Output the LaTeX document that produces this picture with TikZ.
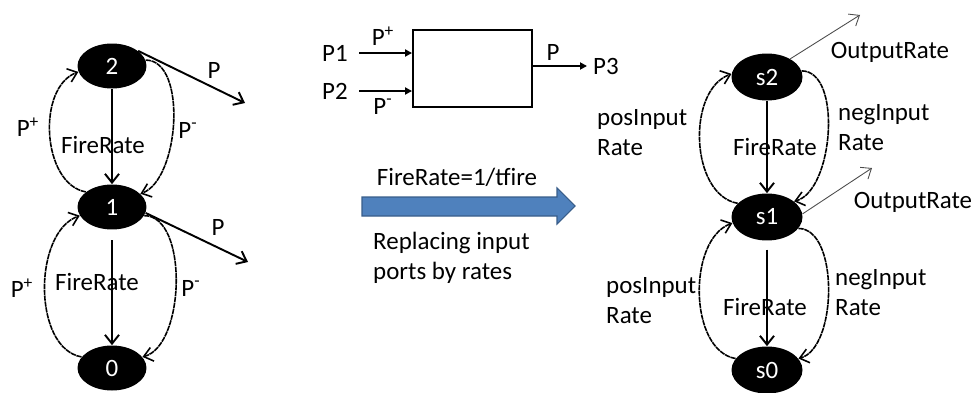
\documentclass[tikz,border=0pt]{standalone}
\usepackage{fontspec}
\setmainfont{Carlito}
\usetikzlibrary{arrows.meta,shapes.geometric}

\definecolor{arrowblue}{HTML}{4F81BD}
\definecolor{arrowedge}{HTML}{385D8A}

\tikzset{
  state/.style={ellipse,fill=black,text=white,inner sep=0pt,minimum width=1.38cm,minimum height=0.9cm},
  rstate/.style={state,minimum width=1.42cm,minimum height=0.94cm},
  fire/.style={line width=1.1pt,-{Straight Barb[length=5pt,width=8pt]}},
  inarc/.style={line width=0.9pt,dash pattern=on 3pt off 0.4pt,-{Straight Barb[length=5pt,width=8pt]}},
  outp/.style={line width=1.1pt,-{Straight Barb[length=5pt,width=8pt]}},
  outrate/.style={line width=0.5pt,black!70,-{Straight Barb[length=5pt,width=8pt]}},
  port/.style={line width=1.1pt,-{Triangle[length=4pt,width=4pt]}},
  twoline/.style={align=left,anchor=west}
}

\begin{document}
\begin{tikzpicture}[x=0.02cm,y=-0.02cm,font=\fontsize{14.2pt}{17pt}\selectfont]
    \useasboundingbox (0,0) rectangle (976,392);

    % left chain with ports
    \node[state] (n2) at (112,66) {2};
    \node[state] (n1) at (112,207) {1};
    \node[state] (n0) at (112,368) {0};
    \coordinate (pend2) at (245,103);
    \coordinate (pend1) at (248,262);

    \draw[fire] (n2) -- (n1);
    \draw[fire,shorten <=6pt] (n1) -- (n0);
    \draw[inarc] (n1.150) to[out=170,in=200,looseness=0.95] (n2.190);
    \draw[inarc] (n2.10) to[out=0,in=20,looseness=0.8] (n1.25);
    \draw[inarc] (n0.160) to[out=170,in=200,looseness=0.9] (n1.195);
    \draw[inarc] (n1.-15) to[out=0,in=15,looseness=0.8] (n0.20);
    \draw[outp] (n2.30) -- (pend2);
    \draw[outp] (n1.-10) -- (pend1);

    \node (pp2) at (28,127) {P\textsuperscript{+}};
    \node (fr2) at (103,145) {FireRate};
    \node (pm2) at (188,130) {P\textsuperscript{-}};
    \node (po2) at (214,70) {P};
    \node (pp1) at (22,288) {P\textsuperscript{+}};
    \node (fr1) at (97,282) {FireRate};
    \node (pm1) at (191,288) {P\textsuperscript{-}};
    \node (po1) at (218,227) {P};

    % block
    \node[draw,line width=1.1pt,minimum width=2.38cm,minimum height=1.54cm] (blk) at (472.5,68.5) {};
    \node (p1) at (335,53) {P1};
    \node (p2) at (335,91) {P2};
    \node (p3) at (606,66) {P3};
    \draw[port,shorten <=3pt] (p1.east) -- (blk.west |- p1.east);
    \draw[port,shorten <=3pt] (p2.east) -- (blk.west |- p2.east);
    \draw[port] (blk.east |- p3.west) -- (p3.west);
    \node (bpp) at (383,36) {P\textsuperscript{+}};
    \node (bpm) at (383,106) {P\textsuperscript{-}};
    \node (bpo) at (553,52) {P};

    % transformation arrow
    \draw[fill=arrowblue,draw=arrowedge,line width=0.6pt]
      (362,197) -- (557,197) -- (557,188) -- (575,206) -- (557,224) -- (557,216) -- (362,216) -- cycle;
    \node (rule) at (457,177) {FireRate=1/tfire};
    \node[twoline] (note) at (367,258) {Replacing input\\ports by rates};

    % right chain with rates
    \node[rstate] (s2) at (767,77) {s2};
    \node[rstate] (s1) at (767,217) {s1};
    \node[rstate] (s0) at (767,370) {s0};
    \coordinate (oend2) at (860,15);
    \coordinate (oend1) at (872,168);

    \draw[fire] (s2) -- (s1);
    \draw[fire,shorten <=5pt] (s1) -- (s0);
    \draw[inarc] (s1.155) to[out=170,in=200,looseness=0.95] (s2.175);
    \draw[inarc] (s2.10) to[out=0,in=15,looseness=0.8] (s1.30);
    \draw[inarc] (s0.160) to[out=170,in=200,looseness=0.9] (s1.190);
    \draw[inarc] (s1.-20) to[out=0,in=15,looseness=0.8] (s0.20);
    \draw[outrate] (s2.38) -- (oend2);
    \draw[outrate] (s1.5) -- (oend1);

    \node[twoline] (pr2) at (591,133) {posInput\\Rate};
    \node (fs2) at (775,147) {FireRate};
    \node[twoline] (nr2) at (832,128) {negInput\\Rate};
    \node (or2) at (890,52) {OutputRate};
    \node[twoline] (pr1) at (600,301) {posInput\\Rate};
    \node (fs1) at (765,307) {FireRate};
    \node[twoline] (nr1) at (829,293) {negInput\\Rate};
    \node (or1) at (913,202) {OutputRate};
\end{tikzpicture}
\end{document}
